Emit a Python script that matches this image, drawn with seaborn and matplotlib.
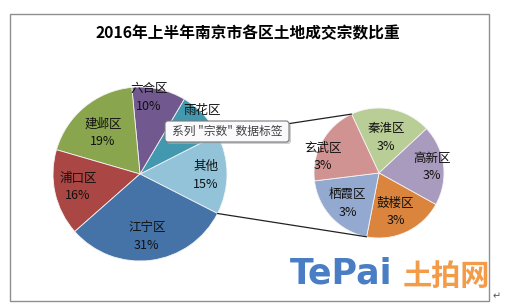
import matplotlib
matplotlib.use("Agg")
import matplotlib.pyplot as plt
import seaborn as sns
import numpy as np
from matplotlib.patches import FancyBboxPatch, Rectangle

# ---- data ----
title = '2016年上半年南京市各区土地成交宗数比重'
main_labels = ['雨花区', '六合区', '建邺区', '浦口区', '江宁区']
main_values = [9, 10, 19, 16, 31]
other_label = '其他'
sub_labels = ['秦淮区', '高新区', '鼓楼区', '栖霞区', '玄武区']
sub_values = [3, 3, 3, 3, 3]
tooltip_text = '系列 "宗数" 数据标签'

# ---- style ----
sns.set_theme(style='white')
plt.rcParams['font.family'] = ['Noto Sans CJK SC', 'DejaVu Sans']

main_colors = ['#93C3D9', '#4298AF', '#71588F', '#89A54E', '#AA4643', '#4572A7']
sub_colors = ['#B9CD96', '#A99BBD', '#DB843D', '#93A9CF', '#D19392']
main_lab_r = [0.76, 0.95, 0.89, 0.64, 0.73, 0.72]
main_lab_da = [-1, -1.5, 6, 2, -1, -1]
main_pct_hidden = [False, True, False, False, False, False]  # covered by tooltip in reference
sub_lab_r = [0.56, 0.82, 0.65, 0.67, 0.90]
sub_lab_da = [0, 0, -2, 1, 13]

W, H = 505, 306
def Y(y):
    return H - y

fig = plt.figure(figsize=(W / 100, H / 100), dpi=100)
ax = fig.add_axes([0, 0, 1, 1])

other_value = sum(sub_values)
vals = [other_value] + main_values
labs = [other_label] + main_labels
total = sum(vals)

mc = (140, Y(174)); mR = 87
sc = (379, Y(173)); sR = 65

start = -other_value / total * 180
wm, _ = ax.pie(vals, colors=main_colors, startangle=start, counterclock=True,
               center=mc, radius=mR, frame=True,
               wedgeprops=dict(edgecolor='#f4f4f4', linewidth=0.6))
ws, _ = ax.pie(sub_values, colors=sub_colors, startangle=115, counterclock=False,
               center=sc, radius=sR, frame=True,
               wedgeprops=dict(edgecolor='#f4f4f4', linewidth=0.6))

fs = 9
def put_labels(wedges, labels, values, center, R, rfr, dang, hidden):
    for w, lab, v, rf, da, hd in zip(wedges, labels, values, rfr, dang, hidden):
        th = np.deg2rad((w.theta1 + w.theta2) / 2 + da)
        x = center[0] + rf * R * np.cos(th)
        y = center[1] + rf * R * np.sin(th)
        ax.text(x, y + 8.5, lab, ha='center', va='center', fontsize=fs, color='#111111', zorder=5)
        if not hd:
            ax.text(x, y - 9, f'{v / total * 100:.0f}%', ha='center', va='center', fontsize=fs,
                    color='#111111', zorder=5)

put_labels(wm, labs, vals, mc, mR, main_lab_r, main_lab_da, main_pct_hidden)
put_labels(ws, sub_labels, sub_values, sc, sR, sub_lab_r, sub_lab_da, [False] * len(sub_values))

# connector lines
def pt(center, R, ang):
    a = np.deg2rad(ang)
    return center[0] + R * np.cos(a), center[1] + R * np.sin(a)
o = wm[0]
p1 = pt(mc, mR, o.theta2); q1 = pt(sc, sR, ws[0].theta2)
p2 = pt(mc, mR, o.theta1); q2 = pt(sc, sR, ws[2].theta1)
ax.plot([p1[0], q1[0]], [p1[1], q1[1]], color='#222222', lw=0.9, zorder=3)
ax.plot([p2[0], q2[0]], [p2[1], q2[1]], color='#222222', lw=0.9, zorder=3)

# tooltip
ax.add_patch(FancyBboxPatch((167, Y(144)), 124, 21, boxstyle='round,pad=0,rounding_size=3',
                            fc='#b0b0b0', ec='none', alpha=0.6, zorder=8))
ax.add_patch(FancyBboxPatch((165, Y(142)), 124, 21, boxstyle='round,pad=0,rounding_size=3',
                            fc='#fafafc', ec='#7a7a7a', lw=0.8, zorder=9))
ax.text(227, Y(131.5), tooltip_text, ha='center', va='center', fontsize=8.5,
        color='#404040', zorder=10)

# title
ax.text(248, Y(33), title, ha='center', va='center', fontsize=11.3, fontweight='bold',
        color='#000000')

# frame
ax.add_patch(Rectangle((10, Y(301)), 479, 287, fill=False, ec='#8f8f8f', lw=1, zorder=1))
ax.text(497, Y(296), '↵', ha='center', va='center', fontsize=7, color='#555555',
        family='DejaVu Sans')

# watermark
ax.text(341, Y(274), 'TePai', ha='center', va='center', fontsize=25, fontweight='bold',
        color='#4A7EC4', family='DejaVu Sans', zorder=6)
ax.text(446, Y(276), '土拍网', ha='center', va='center', fontsize=21, fontweight='bold',
        color='#F39B48', zorder=6)

ax.set_xlim(0, W)
ax.set_ylim(0, H)
ax.set_aspect('auto')
ax.axis('off')
fig.savefig('out.png', dpi=100, facecolor='white')
